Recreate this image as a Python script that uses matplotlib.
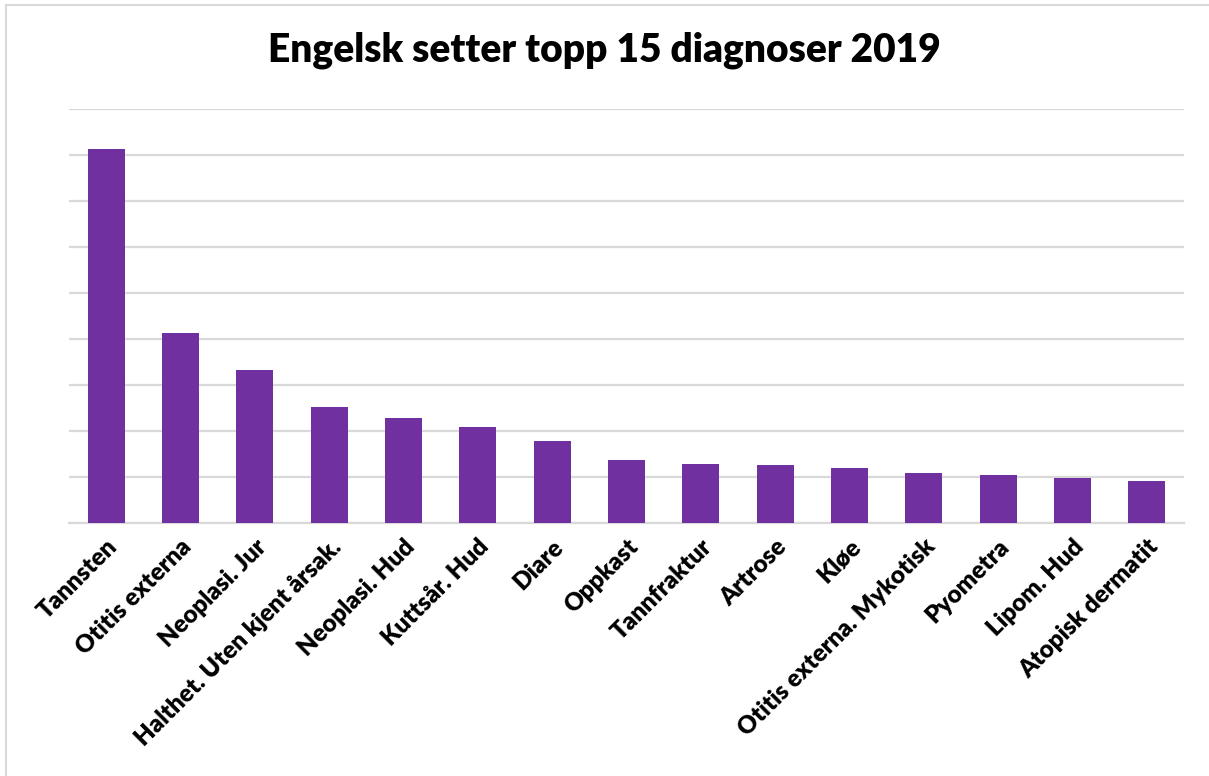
import numpy as np
import matplotlib.pyplot as plt
from matplotlib.lines import Line2D

# diagnoses and counts (grid step = 10)
diagnoses = ['Tannsten', 'Otitis externa', 'Neoplasi. Jur',
             'Halthet. Uten kjent årsak.', 'Neoplasi. Hud', 'Kuttsår. Hud',
             'Diare', 'Oppkast', 'Tannfraktur', 'Artrose', 'Kløe',
             'Otitis externa. Mykotisk', 'Pyometra', 'Lipom. Hud',
             'Atopisk dermatit']
counts = [81.3, 41.3, 33.3, 25.2, 22.8, 20.9, 17.8, 13.7, 12.8, 12.6,
          12.0, 10.9, 10.4, 9.8, 9.1]

plt.rcParams['font.family'] = ['Lato', 'DejaVu Sans']

W, H = 1209, 776
fig = plt.figure(figsize=(W / 100, H / 100), dpi=100)
ax = fig.add_axes([69 / W, 1 - 523 / H, (1184 - 69) / W, (523 - 109) / H])

x = np.arange(len(diagnoses))
ax.bar(x, counts, width=0.5, color='#7030A0', zorder=3)

ax.set_xlim(-0.5, len(diagnoses) - 0.5)
ax.set_ylim(0, 90)
ax.set_yticks(np.arange(0, 91, 10))
ax.yaxis.grid(True, color='#D9D9D9', linewidth=1.6, zorder=0)
ax.tick_params(axis='y', left=False, labelleft=False)
ax.tick_params(axis='x', length=0, pad=9)
for s in ['top', 'right', 'left']:
    ax.spines[s].set_visible(False)
ax.spines['bottom'].set_color('#D9D9D9')
ax.spines['bottom'].set_linewidth(1.6)

ax.set_xticks(x)
ax.set_xticklabels(diagnoses, rotation=45, ha='right', rotation_mode='anchor',
                   fontsize=17.5, fontweight='heavy')

fig.text(0.5, 1 - 50 / H, 'Engelsk setter topp 15 diagnoser 2019',
         ha='center', va='center', fontsize=28, fontweight='heavy')

# chart frame (left and top edges visible)
fig.add_artist(Line2D([6 / W, 6 / W], [0, 1 - 5 / H], color='#D9D9D9', linewidth=1.5))
fig.add_artist(Line2D([6 / W, 1], [1 - 5 / H, 1 - 5 / H], color='#D9D9D9', linewidth=1.5))

fig.savefig('out.png', dpi=100)
